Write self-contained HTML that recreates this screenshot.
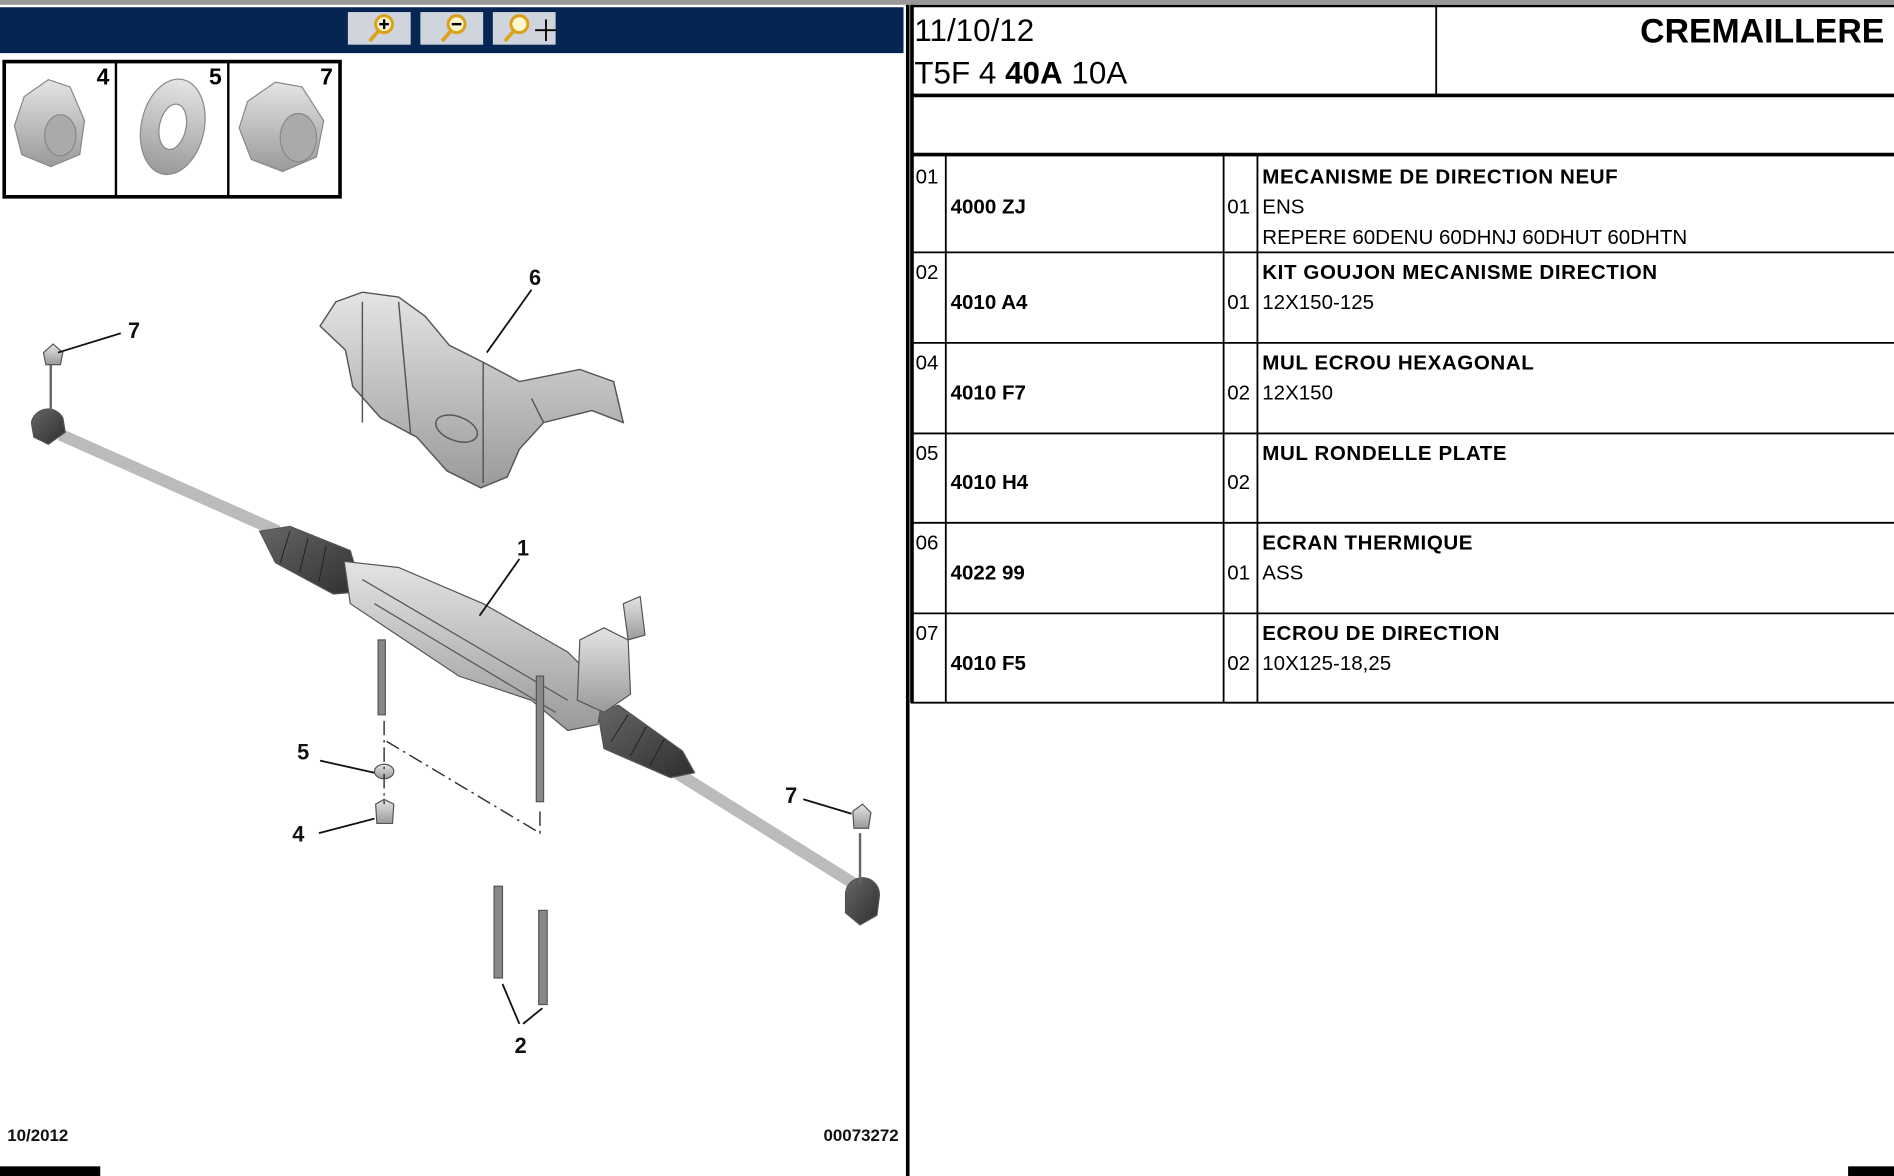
<!DOCTYPE html>
<html><head><meta charset="utf-8"><style>
html,body{margin:0;padding:0;background:#fff;width:1894px;height:1176px;overflow:hidden}
svg{display:block}
text{font-family:"Liberation Sans",Arial,sans-serif}
</style></head><body>
<svg width="1894" height="1176" viewBox="0 0 1568 974" preserveAspectRatio="none" xmlns="http://www.w3.org/2000/svg">
<defs>
<linearGradient id="g" x1="0" y1="0" x2="0" y2="1"><stop offset="0" stop-color="#e4e4e4"/><stop offset="1" stop-color="#9a9a9a"/></linearGradient>
<linearGradient id="b" x1="0" y1="0" x2="1" y2="1"><stop offset="0" stop-color="#666"/><stop offset="1" stop-color="#2e2e2e"/></linearGradient>
</defs>
<rect x="0" y="0" width="1568" height="4" fill="#999"/>
<rect x="0" y="6" width="748" height="38" fill="#052553"/>
<g>
<rect x="288" y="10" width="52" height="27" fill="#d0d4dc"/>
<rect x="348" y="10" width="52" height="27" fill="#d0d4dc"/>
<rect x="408" y="10" width="52" height="27" fill="#d0d4dc"/>
<g fill="#fff8d0" stroke="#d9a21a" stroke-width="2.5">
<circle cx="318" cy="20" r="7"/><circle cx="378" cy="20" r="7"/><circle cx="430" cy="20" r="7"/></g>
<g stroke="#d9a21a" stroke-width="3"><line x1="313" y1="26" x2="306" y2="34"/><line x1="373" y1="26" x2="366" y2="34"/><line x1="425" y1="26" x2="418" y2="34"/></g>
<g stroke="#000" stroke-width="2"><line x1="314" y1="20" x2="322" y2="20"/><line x1="318" y1="16" x2="318" y2="24"/><line x1="374" y1="20" x2="382" y2="20"/>
<line x1="452" y1="16" x2="452" y2="34" stroke-width="1.5"/><line x1="443" y1="25" x2="461" y2="25" stroke-width="1.5"/></g>
</g>
<rect x="3.5" y="51" width="278" height="112" fill="#fff" stroke="#000" stroke-width="3"/>
<line x1="96" y1="51" x2="96" y2="163" stroke="#000" stroke-width="2"/>
<line x1="189" y1="51" x2="189" y2="163" stroke="#000" stroke-width="2"/>
<g font-weight="bold" font-size="19"><text x="80" y="70">4</text><text x="173" y="70">5</text><text x="265" y="70">7</text></g>
<g stroke="#888" stroke-width="1">
<path d="M20 80 L40 66 L58 72 L70 100 L66 128 L42 138 L18 128 L12 104Z" fill="url(#g)"/>
<ellipse cx="50" cy="112" rx="13" ry="17" fill="#aaa"/>
<ellipse cx="143" cy="105" rx="26" ry="40" fill="url(#g)" transform="rotate(12 143 105)"/>
<ellipse cx="143" cy="105" rx="11" ry="19" fill="#fff" transform="rotate(12 143 105)"/>
<path d="M205 84 L228 68 L250 72 L268 100 L262 130 L234 142 L208 132 L198 106Z" fill="url(#g)"/>
<ellipse cx="247" cy="114" rx="15" ry="20" fill="#aaa"/>
</g>
<g stroke="#555" stroke-width="1.2">
<path d="M265 270 L278 250 L300 242 L330 246 L352 262 L372 286 L400 300 L430 316 L480 306 L508 316 L516 350 L490 340 L450 350 L430 372 L420 395 L398 404 L370 390 L345 362 L315 346 L292 320 L286 290Z" fill="url(#g)"/>
<path d="M300 250 L300 350 M330 250 L340 360 M400 300 L400 400 M440 330 L450 350" fill="none"/>
<ellipse cx="378" cy="355" rx="18" ry="10" fill="none" transform="rotate(20 378 355)"/>
</g>
<g stroke="#555" stroke-width="1">
<line x1="50" y1="360" x2="230" y2="440" stroke="#bbb" stroke-width="10"/>
<line x1="560" y1="640" x2="712" y2="735" stroke="#bbb" stroke-width="10"/>
<path d="M26 350 A14 14 0 0 1 52 346 L54 358 L40 368 L28 362Z" fill="url(#b)"/>
<path d="M700 740 A14 14 0 0 1 728 742 L726 758 L712 766 L700 756Z" fill="url(#b)"/>
<line x1="42" y1="340" x2="42" y2="300" stroke="#666" stroke-width="2"/>
<line x1="712" y1="732" x2="712" y2="690" stroke="#666" stroke-width="2"/>
<path d="M36 292 L44 285 L52 292 L50 302 L38 302Z" fill="url(#g)"/>
<path d="M706 672 L714 666 L721 673 L719 686 L707 686Z" fill="url(#g)"/>
<path d="M215 440 L240 436 L290 456 L300 490 L276 492 L228 466Z" fill="url(#b)"/>
<path d="M495 590 L512 584 L565 622 L575 640 L555 644 L500 620Z" fill="url(#b)"/>
<g stroke="#222" stroke-width="0.8"><path d="M240 440 L232 466 M255 446 L248 474 M270 452 L264 482 M520 592 L506 614 M535 602 L522 626 M550 612 L538 634"/></g>
<path d="M285 465 L330 470 L400 500 L470 540 L500 570 L495 600 L470 605 L440 580 L380 560 L320 520 L290 500Z" fill="url(#g)"/>
<path d="M480 530 L500 520 L520 530 L522 575 L500 590 L478 580Z" fill="url(#g)"/>
<path d="M516 500 L530 494 L534 526 L520 530Z" fill="url(#g)"/>
<line x1="300" y1="480" x2="470" y2="580" fill="none"/>
<line x1="310" y1="500" x2="460" y2="590" fill="none"/>
<rect x="313" y="530" width="6" height="62" fill="#888"/>
<rect x="444" y="560" width="6" height="104" fill="#888"/>
<rect x="409" y="734" width="7" height="76" fill="#888"/>
<rect x="446" y="754" width="7" height="78" fill="#888"/>
<ellipse cx="318" cy="639" rx="8" ry="6" fill="url(#g)"/>
<path d="M311 666 L318 662 L326 666 L325 682 L312 682Z" fill="url(#g)"/>
</g>
<path d="M318 597 L318 666 M320 614 L447 690 L447 670" stroke="#333" stroke-width="1.2" fill="none" stroke-dasharray="12 4 2 4"/>
<g stroke="#111" stroke-width="1.5">
<line x1="48" y1="292" x2="100" y2="276"/>
<line x1="403" y1="292" x2="440" y2="240"/>
<line x1="397" y1="510" x2="430" y2="463"/>
<line x1="265" y1="630" x2="310" y2="640"/>
<line x1="264" y1="690" x2="310" y2="678"/>
<line x1="665" y1="662" x2="705" y2="674"/>
<line x1="416" y1="815" x2="430" y2="848"/>
<line x1="449" y1="835" x2="433" y2="848"/>
</g>
<g font-weight="bold" font-size="18" fill="#111">
<text x="106" y="280">7</text><text x="438" y="236">6</text><text x="428" y="460">1</text>
<text x="246" y="629">5</text><text x="242" y="697">4</text><text x="650" y="665">7</text><text x="426" y="872">2</text>
</g>
<g font-weight="bold" font-size="14" fill="#111"><text x="6" y="945">10/2012</text><text x="744" y="945" text-anchor="end">00073272</text></g>
<rect x="0" y="966" width="83" height="8" fill="#000"/>
<rect x="1530" y="966" width="38" height="8" fill="#000"/>
<rect x="750" y="4" width="3" height="970" fill="#000"/>
<g stroke="#000" fill="none">
<line x1="754" y1="5" x2="1568" y2="5" stroke-width="2"/>
<line x1="755" y1="4" x2="755" y2="582" stroke-width="3"/>
<line x1="1189" y1="5" x2="1189" y2="79" stroke-width="1.5"/>
<line x1="754" y1="79" x2="1568" y2="79" stroke-width="3"/>
<line x1="754" y1="128" x2="1568" y2="128" stroke-width="3"/>
<line x1="783" y1="128" x2="783" y2="582" stroke-width="1.5"/>
<line x1="1013" y1="128" x2="1013" y2="582" stroke-width="1.5"/>
<line x1="1041" y1="128" x2="1041" y2="582" stroke-width="1.5"/>
<g stroke-width="1.5">
<line x1="754" y1="209" x2="1568" y2="209"/><line x1="754" y1="284" x2="1568" y2="284"/>
<line x1="754" y1="359" x2="1568" y2="359"/><line x1="754" y1="433" x2="1568" y2="433"/>
<line x1="754" y1="508" x2="1568" y2="508"/><line x1="754" y1="582" x2="1568" y2="582"/>
</g>
</g>
<g fill="#000">
<text x="757" y="34" font-size="26">11/10/12</text>
<text x="757" y="69" font-size="26">T5F 4 <tspan font-weight="bold">40A</tspan> 10A</text>
<text x="1560" y="35" font-size="28" font-weight="bold" text-anchor="end">CREMAILLERE</text>
<g font-size="17">
<text x="758" y="152">01</text><text x="758" y="231">02</text><text x="758" y="306">04</text><text x="758" y="381">05</text><text x="758" y="455">06</text><text x="758" y="530">07</text>
<text x="1016" y="177">01</text><text x="1016" y="256">01</text><text x="1016" y="331">02</text><text x="1016" y="405">02</text><text x="1016" y="480">01</text><text x="1016" y="555">02</text>
<text x="1045" y="177">ENS</text><text x="1045" y="202">REPERE 60DENU 60DHNJ 60DHUT 60DHTN</text>
<text x="1045" y="256">12X150-125</text><text x="1045" y="331">12X150</text><text x="1045" y="480">ASS</text><text x="1045" y="555">10X125-18,25</text>
</g>
<g font-size="17" font-weight="bold">
<text x="787" y="177">4000 ZJ</text><text x="787" y="256">4010 A4</text><text x="787" y="331">4010 F7</text><text x="787" y="405">4010 H4</text><text x="787" y="480">4022 99</text><text x="787" y="555">4010 F5</text>
<text x="1045" y="152" letter-spacing="0.5">MECANISME DE DIRECTION NEUF</text>
<text x="1045" y="231" letter-spacing="0.5">KIT GOUJON MECANISME DIRECTION</text>
<text x="1045" y="306" letter-spacing="0.5">MUL ECROU HEXAGONAL</text>
<text x="1045" y="381" letter-spacing="0.5">MUL RONDELLE PLATE</text>
<text x="1045" y="455" letter-spacing="0.5">ECRAN THERMIQUE</text>
<text x="1045" y="530" letter-spacing="0.5">ECROU DE DIRECTION</text>
</g>
</g>
</svg>
</body></html>
